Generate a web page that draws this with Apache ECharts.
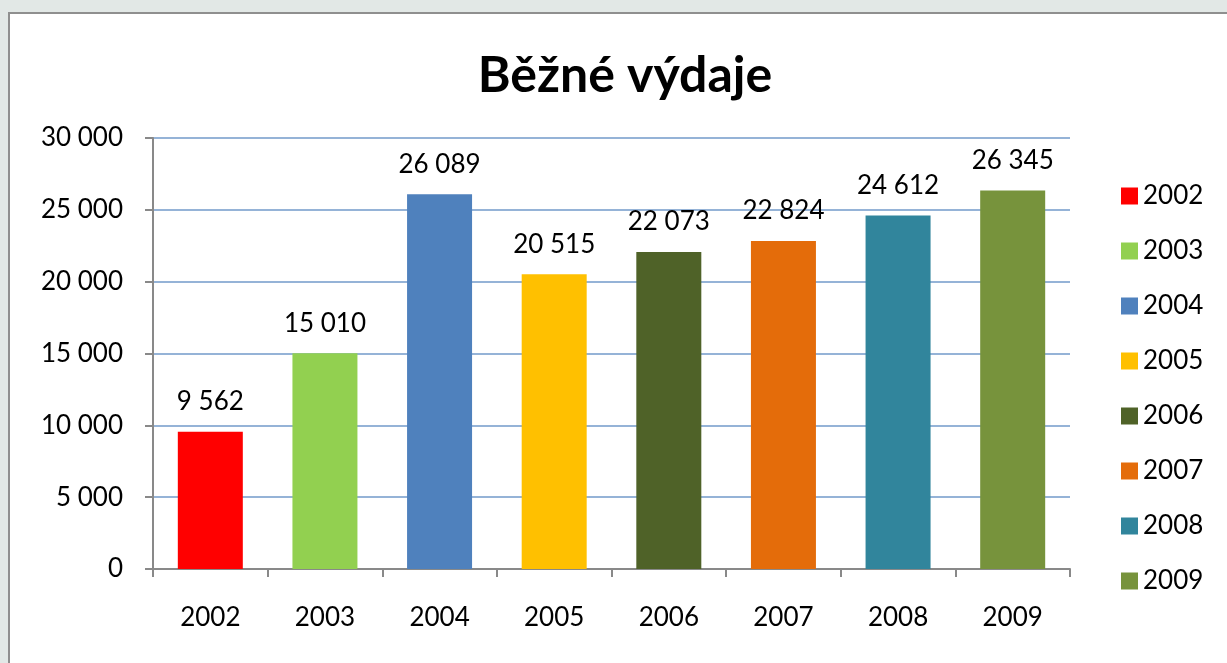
<!DOCTYPE html>
<html>
<head>
<meta charset="utf-8">
<script src="https://cdn.jsdelivr.net/npm/echarts@6/dist/echarts.min.js"></script>
<style>
  html, body { margin: 0; padding: 0; width: 1227px; height: 663px; overflow: hidden; background: #e2e8e6; }
  .frame { position: absolute; left: 8px; top: 12px; width: 1230px; height: 660px; background: #fff; border-left: 2px solid #8f8f8f; border-top: 2px solid #8f8f8f; }
  #chart { position: absolute; left: 0; top: 0; width: 1227px; height: 663px; }
</style>
</head>
<body>
<div class="frame"></div>
<div id="chart"></div>
<script>
const years = ['2002', '2003', '2004', '2005', '2006', '2007', '2008', '2009']
const values = [9562, 15010, 26089, 20515, 22073, 22824, 24612, 26345]
const colors = ['#ff0000', '#92d050', '#4f81bd', '#ffc000', '#4f6228', '#e46c0a', '#31859c', '#77933c']
const yTicks = [0, 5000, 10000, 15000, 20000, 25000, 30000]

const fmt = v => String(v).replace(/\B(?=(\d{3})+(?!\d))/g, ' ')
const font = 'Lato, "Open Sans", sans-serif'

const chart = echarts.init(document.getElementById('chart'))

// one series per year so the legend lists every bar colour
const series = years.map((y, i) => ({
  name: y,
  type: 'bar',
  stack: 'all',
  barWidth: 65,
  itemStyle: { color: colors[i] },
  label: {
    show: true,
    position: 'top',
    distance: 17,
    color: '#000',
    fontFamily: font,
    fontSize: 26,
    formatter: p => fmt(p.value),
  },
  data: years.map((_, j) => (j === i ? values[i] : '-')),
}))

chart.setOption({
  animation: false,
  title: {
    text: 'Běžné výdaje',
    left: 620,
    textAlign: 'center',
    top: 46,
    textStyle: { fontFamily: font, fontSize: 50, fontWeight: 'bold', color: '#000' },
  },
  legend: {
    orient: 'vertical',
    left: 1116,
    top: 178,
    itemWidth: 17,
    itemHeight: 17,
    itemGap: 29,
    icon: 'rect',
    textStyle: { fontFamily: font, fontSize: 26, color: '#000' },
    data: years,
  },
  grid: { left: 153, right: 157, top: 138, bottom: 94 },
  xAxis: {
    type: 'category',
    data: years,
    axisLine: { lineStyle: { color: '#898989', width: 2 } },
    axisTick: { show: true, length: 8, lineStyle: { color: '#898989', width: 2 } },
    axisLabel: { margin: 36, color: '#000', fontFamily: font, fontSize: 26 },
  },
  yAxis: {
    type: 'value',
    min: yTicks[0],
    max: yTicks[yTicks.length - 1],
    interval: 5000,
    axisLine: { show: true, lineStyle: { color: '#898989', width: 2 } },
    axisTick: { show: true, length: 8, lineStyle: { color: '#898989', width: 2 } },
    axisLabel: { margin: 30, color: '#000', fontFamily: font, fontSize: 26, formatter: v => fmt(v) },
    splitLine: { lineStyle: { color: '#95b3d7', width: 2 } },
  },
  series,
})

window.addEventListener('resize', () => chart.resize())
</script>
</body>
</html>
